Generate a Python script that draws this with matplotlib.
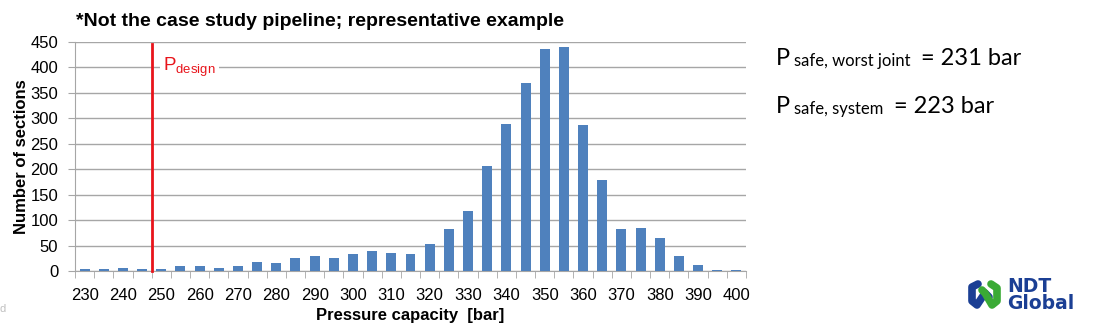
import numpy as np
import matplotlib
matplotlib.use("Agg")
import matplotlib.pyplot as plt
from matplotlib.lines import Line2D

# --- data ---
pressure = [230, 235, 240, 245, 250, 255, 260, 265, 270, 275, 280, 285, 290, 295,
            300, 305, 310, 315, 320, 325, 330, 335, 340, 345, 350, 355, 360, 365,
            370, 375, 380, 385, 390, 395, 400]
sections = [3, 3, 6, 3, 3, 10, 10, 6, 10, 18, 16, 25, 30, 25,
            34, 39, 36, 33, 54, 82, 118, 207, 288, 369, 437, 440, 286, 179,
            82, 84, 65, 30, 11, 2, 2]
p_design_pos = 3.5          # between 245 and 250 categories
y_ticks = [0, 50, 100, 150, 200, 250, 300, 350, 400, 450]
x_labels = [str(p) if p % 10 == 0 else "" for p in pressure]

plt.rcParams['font.family'] = ['Liberation Sans', 'DejaVu Sans']
plt.rcParams['mathtext.fontset'] = 'custom'
plt.rcParams['mathtext.rm'] = 'Liberation Sans'
plt.rcParams['mathtext.it'] = 'Liberation Sans'

BAR_BLUE = '#4F81BD'
GRID = '#A6A6A6'

fig = plt.figure(figsize=(11, 3.28), dpi=100)
ax = fig.add_axes([75 / 1100, 1 - 271 / 328, (746 - 75) / 1100, (271 - 42) / 328])

x = np.arange(len(pressure))
ax.bar(x, sections, width=0.52, color=BAR_BLUE, zorder=3)

ax.set_xlim(-0.5, len(pressure) - 0.5)
ax.set_ylim(0, 450)
ax.set_yticks(y_ticks)
ax.set_xticks(x)
ax.set_xticklabels(x_labels)
ax.set_xticks(np.arange(-0.5, len(pressure)), minor=True)
ax.tick_params(axis='x', which='major', length=0, labelsize=12, pad=12)
ax.tick_params(axis='x', which='minor', length=5, color=GRID, direction='out')
ax.tick_params(axis='y', length=5, color=GRID, labelsize=12, pad=7)
ax.yaxis.grid(True, color=GRID, lw=1, zorder=0)
ax.set_axisbelow(True)
for s in ['top', 'right']:
    ax.spines[s].set_visible(False)
for s in ['left', 'bottom']:
    ax.spines[s].set_color(GRID)

ax.set_xlabel('Pressure capacity  [bar]', fontsize=12, fontweight='bold', labelpad=4)
ax.set_ylabel('Number of sections', fontsize=12, fontweight='bold', labelpad=1)

# design pressure line
ax.plot([p_design_pos, p_design_pos], [0, 447], color='#E8141B', lw=2, zorder=4,
        clip_on=False)
ax.text(p_design_pos + 0.6, 400, r'$\mathrm{P}_{\mathrm{design}}$', color='#E8141B',
        fontsize=13.5, va='center', ha='left', zorder=5,
        bbox=dict(facecolor='white', edgecolor='none', pad=2))

fig.text(76 / 1100, 1 - 21 / 328, '*Not the case study pipeline; representative example',
         fontsize=14, fontweight='bold', va='center', ha='left')

# safe pressure annotations
calib = ['Lato', 'DejaVu Sans']
for yy, sub, val in [(65, 'safe, worst joint', '= 231 bar'),
                     (113, 'safe, system', '= 223 bar')]:
    t1 = fig.text(776 / 1100, 1 - yy / 328, 'P', fontsize=17, family=calib,
                  va='baseline', ha='left')
    fig.canvas.draw()
    bb = t1.get_window_extent()
    t2 = fig.text(bb.x1 / 1100 + 4 / 1100, 1 - (yy + 1) / 328, sub, fontsize=12,
                  family=calib, va='baseline', ha='left')
    bb2 = t2.get_window_extent()
    fig.text(bb2.x1 / 1100 + 10 / 1100, 1 - yy / 328, val, fontsize=17,
             family=calib, va='baseline', ha='left')

# logo
NAVY = '#1B3F94'
GREEN = '#3AAA35'
def fx(px):
    return px / 1100
def fy(py):
    return 1 - py / 328
fig.add_artist(Line2D([fx(978), fx(972), fx(972), fx(977), fx(985), fx(989)],
                      [fy(284), fy(287), fy(301), fy(305), fy(293), fy(297)],
                      color=NAVY, lw=5.5, solid_capstyle='round', solid_joinstyle='round'))
fig.add_artist(Line2D([fx(991), fx(997), fx(997), fx(992), fx(985), fx(982)],
                      [fy(284), fy(288), fy(301), fy(305), fy(293), fy(290)],
                      color=GREEN, lw=5.5, solid_capstyle='round', solid_joinstyle='round'))
fig.text(fx(1007), fy(295), 'NDT\nGlobal', fontsize=13.5, fontweight='bold', color=NAVY,
         family=['DejaVu Sans'], va='center', ha='left', linespacing=0.85)

fig.text(fx(0), fy(309), 'd', fontsize=8, color='#C0C0C0', va='center', ha='left')

fig.savefig('out.png', dpi=100)
